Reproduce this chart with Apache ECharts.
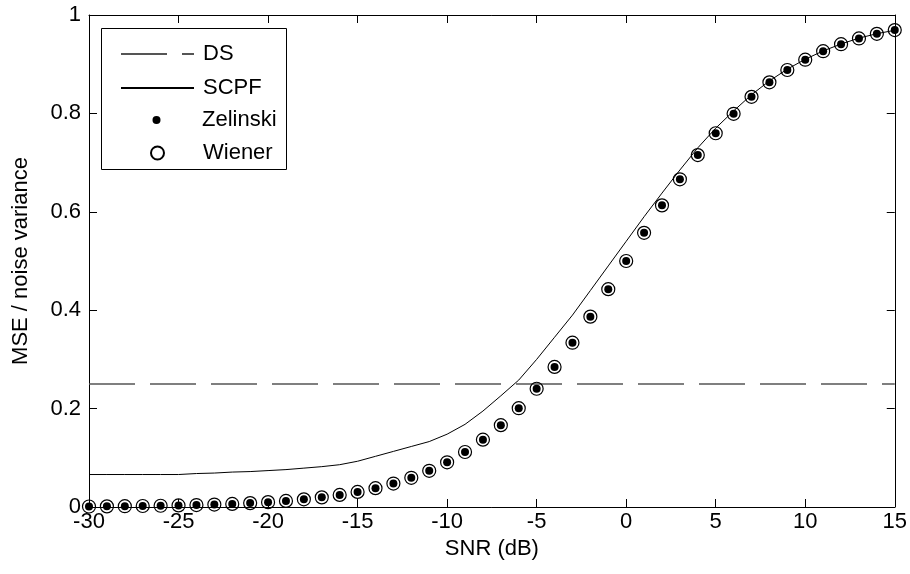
<!DOCTYPE html>
<html>
<head>
<meta charset="utf-8">
<script src="https://cdn.jsdelivr.net/npm/echarts@6/dist/echarts.min.js"></script>
<style>
html,body{margin:0;padding:0;background:#fff;}
#chart{width:910px;height:574px;}
</style>
</head>
<body>
<div id="chart"></div>
<script>
// SNR (dB) sample points
var snr = [-30,-29,-28,-27,-26,-25,-24,-23,-22,-21,-20,-19,-18,-17,-16,-15,-14,-13,-12,-11,-10,-9,-8,-7,-6,-5,-4,-3,-2,-1,0,1,2,3,4,5,6,7,8,9,10,11,12,13,14,15];
// Zelinski (filled dots) values
var zelinski = [0.001,0.0013,0.0016,0.002,0.0025,0.0032,0.004,0.005,0.0063,0.0079,0.0099,0.0124,0.0156,0.0196,0.0245,0.0307,0.0383,0.0477,0.0594,0.0736,0.0909,0.1118,0.1368,0.1663,0.2008,0.2403,0.2847,0.3339,0.3869,0.4427,0.5,0.5573,0.6131,0.6661,0.7153,0.7597,0.7992,0.8337,0.8632,0.8882,0.9091,0.9264,0.9406,0.9523,0.9617,0.9693];
// Wiener (open circles) values
var wiener = [0.001,0.0013,0.0016,0.002,0.0025,0.0032,0.004,0.005,0.0063,0.0079,0.0099,0.0124,0.0156,0.0196,0.0245,0.0307,0.0383,0.0477,0.0594,0.0736,0.0909,0.1118,0.1368,0.1663,0.2008,0.2403,0.2847,0.3339,0.3869,0.4427,0.5,0.5573,0.6131,0.6661,0.7153,0.7597,0.7992,0.8337,0.8632,0.8882,0.9091,0.9264,0.9406,0.9523,0.9617,0.9693];
// SCPF solid line values
var scpf = [0.066,0.066,0.066,0.066,0.066,0.066,0.068,0.069,0.071,0.072,0.074,0.076,0.079,0.082,0.086,0.093,0.103,0.113,0.123,0.133,0.148,0.168,0.195,0.226,0.258,0.300,0.345,0.390,0.440,0.490,0.540,0.590,0.638,0.685,0.730,0.770,0.805,0.838,0.866,0.890,0.910,0.927,0.941,0.953,0.962,0.969];
// DS dashed line
var dsSnr = [-30, 15];
var ds = [0.25, 0.25];
// tick labels
var xTicks = [-30,-25,-20,-15,-10,-5,0,5,10,15];
var yTicks = [0,0.2,0.4,0.6,0.8,1];

function pairs(xs, ys){ return xs.map(function(x,i){ return [x, ys[i]]; }); }

var FONT = '"Liberation Sans", Arial, sans-serif';
var FS = 22;
var chart = echarts.init(document.getElementById('chart'), null, {renderer:'canvas'});

function axisCommon(){
  return {
    axisLine:{show:true, onZero:false, lineStyle:{color:'#000', width:1}},
    axisTick:{show:true, inside:true, length:8, lineStyle:{color:'#000'}},
    splitLine:{show:false}
  };
}

// legend: line samples span x 115..188, text starts at x 197, marker centred at x 151.5
function legend(name, centerY, w, h, extra){
  var left = 151.5 - w/2;
  var textStart = left + w + 5;
  var l = {
    data:[name], orient:'vertical', left:left, top:centerY-12,
    itemWidth:w, itemHeight:h, selectedMode:false,
    textStyle:{fontFamily:FONT, fontSize:FS, color:'#000', padding:[0,0,0,197-textStart]}
  };
  return Object.assign(l, extra || {});
}

var option = {
  backgroundColor:'#fff',
  animation:false,
  grid:{left:89, right:15, top:15, bottom:67, containLabel:false},
  xAxis:[
    Object.assign({
      type:'value', min:-30, max:15, interval:5, position:'bottom',
      name:'SNR (dB)', nameLocation:'middle', nameGap:30,
      nameTextStyle:{fontFamily:FONT, fontSize:FS, color:'#000'},
      axisLabel:{fontFamily:FONT, fontSize:FS, color:'#000', margin:4,
        formatter:function(v){ return xTicks.indexOf(v)>=0 ? String(v) : ''; }}
    }, axisCommon()),
    Object.assign({
      type:'value', min:-30, max:15, interval:5, position:'top',
      axisLabel:{show:false}
    }, axisCommon())
  ],
  yAxis:[
    Object.assign({
      type:'value', min:0, max:1, interval:0.2, position:'left',
      name:'MSE / noise variance', nameLocation:'middle', nameGap:57,
      nameTextStyle:{fontFamily:FONT, fontSize:FS, color:'#000'},
      axisLabel:{fontFamily:FONT, fontSize:FS, color:'#000', margin:8,
        formatter:function(v){ var t = Math.round(v*10)/10; return yTicks.indexOf(t)>=0 ? String(t) : ''; }}
    }, axisCommon()),
    Object.assign({
      type:'value', min:0, max:1, interval:0.2, position:'right',
      axisLabel:{show:false}
    }, axisCommon())
  ],
  legend:[
    legend('DS', 50, 73, 14, {itemStyle:{color:'transparent', borderWidth:0, opacity:0}}),
    legend('SCPF', 84, 73, 14, {itemStyle:{color:'transparent', borderWidth:0, opacity:0}}),
    legend('Zelinski', 116, 8, 8),
    legend('Wiener', 149, 13, 13)
  ],
  graphic:[
    {type:'rect', left:101, top:28, shape:{width:185, height:141},
     style:{fill:'#fff', stroke:'#000', lineWidth:1}, z:-1}
  ],
  series:[
    {
      name:'DS', type:'line', data:pairs(dsSnr, ds), symbol:'none', showSymbol:false,
      lineStyle:{color:'#555', width:1.5, type:[46,15]}, itemStyle:{color:'#555'}, z:2
    },
    {
      name:'SCPF', type:'line', data:pairs(snr, scpf), symbol:'none', showSymbol:false,
      lineStyle:{color:'#000', width:1}, itemStyle:{color:'#000'}, z:2
    },
    {
      name:'Zelinski', type:'scatter', data:pairs(snr, zelinski), symbol:'circle', symbolSize:8,
      itemStyle:{color:'#000', opacity:1}, z:3
    },
    {
      name:'Wiener', type:'scatter', data:pairs(snr, wiener), symbol:'circle', symbolSize:13,
      itemStyle:{color:'transparent', borderColor:'#000', borderWidth:1.2, opacity:1}, z:4
    }
  ]
};
chart.setOption(option);
</script>
</body>
</html>
